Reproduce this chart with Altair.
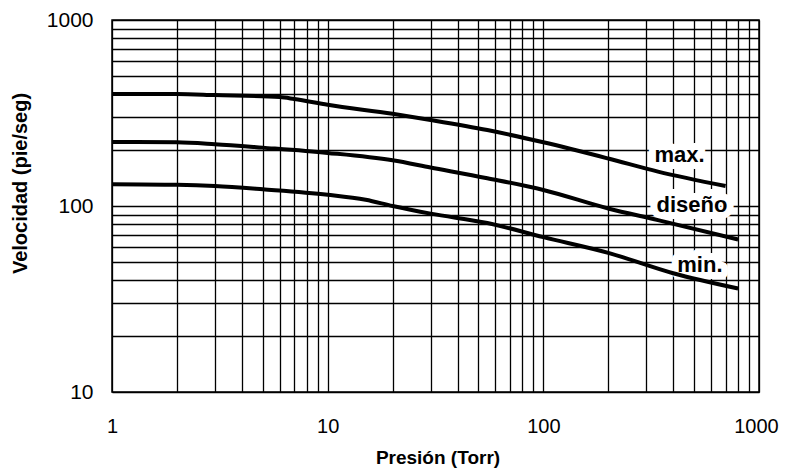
import altair as alt
import pandas as pd

# ---- data ----
pres_max = [1, 2, 3, 6, 7, 10, 20, 30, 55, 100, 200, 340, 700]
vel_max = [400, 400, 395, 385, 376, 350, 313, 290, 256, 220, 180, 153, 128]

pres_dis = [1, 2, 3, 5, 10, 20, 30, 55, 100, 200, 340, 800]
vel_dis = [221, 220, 215, 206, 193, 176, 161, 141, 122, 97, 84, 66]

pres_min = [1, 2, 3, 5, 10, 15, 20, 30, 55, 100, 200, 400, 800]
vel_min = [131, 130, 128, 123, 115, 108, 100, 91, 81, 68, 56, 43.5, 36]

label_text = ["max.", "diseño", "min."]
label_p = [428, 489, 532]
label_v = [172, 93, 44.4]

x_grid = [1, 2, 3, 4, 5, 6, 7, 8, 9,
          10, 20, 30, 40, 50, 60, 70, 80, 90,
          100, 200, 300, 400, 500, 600, 700, 800, 900, 1000]
y_grid = [10, 20, 30, 40, 50, 60, 70, 80, 90,
          100, 200, 300, 400, 500, 600, 700, 800, 900, 1000]
x_major = [1, 10, 100, 1000]
y_major = [10, 100, 1000]

rows = []
for name, xs, ys in [("max", pres_max, vel_max),
                     ("diseño", pres_dis, vel_dis),
                     ("min", pres_min, vel_min)]:
    for p, v in zip(xs, ys):
        rows.append({"serie": name, "p": p, "v": v})
df = pd.DataFrame(rows)
lab = pd.DataFrame({"t": label_text, "p": label_p, "v": label_v})

FONT = "Liberation Sans"

xscale = alt.Scale(type="log", domain=[1, 1000], nice=False)
yscale = alt.Scale(type="log", domain=[10, 1000], nice=False)

xaxis = alt.Axis(
    values=x_grid, format="d",
    labelExpr="indexof(" + str(x_major) + ", datum.value) >= 0 ? datum.label : ''",
    labelOverlap=False, labelFlush=False, labelBound=False,
    labelFont=FONT, labelFontSize=20, labelColor="black", labelPadding=24,
    labelBaseline="top",
    labelOffset={"condition": {"test": "datum.value == 1000", "value": -3}, "value": 0},
    ticks=False, domain=False,
    grid=True, gridColor="black", gridOpacity=1, gridWidth=1.3,
    title="Presión (Torr)", titleFont=FONT, titleFontSize=19, titleFontWeight="bold",
    titleColor="black", titleX=325.5, titleY=71, titleAlign="center",
    titleBaseline="alphabetic",
)
yaxis = alt.Axis(
    values=y_grid, format="d",
    labelExpr="indexof(" + str(y_major) + ", datum.value) >= 0 ? datum.label : ''",
    labelOverlap=False, labelFlush=False, labelBound=False,
    labelFont=FONT, labelFontSize=21, labelColor="black", labelPadding=19,
    ticks=False, domain=False,
    grid=True, gridColor="black", gridOpacity=1, gridWidth=1.3,
    title="Velocidad (pie/seg)", titleFont=FONT, titleFontSize=20, titleFontWeight="bold",
    titleColor="black", titleX=-92, titleY=163, titleAngle=270, titleAlign="center",
    titleBaseline="middle",
)

X = alt.X("p:Q", scale=xscale, axis=xaxis)
Y = alt.Y("v:Q", scale=yscale, axis=yaxis)

halo = alt.Chart(lab).mark_text(
    font=FONT, fontSize=22, fontWeight="bold", align="center", baseline="alphabetic",
    stroke="white", strokeWidth=14, fill="white", strokeJoin="round"
).encode(x=X, y=Y, text="t:N")

lines = alt.Chart(df).mark_line(
    color="black", strokeWidth=4, interpolate="monotone"
).encode(x=X, y=Y, detail="serie:N")

text = alt.Chart(lab).mark_text(
    font=FONT, fontSize=22, fontWeight="bold", align="center", baseline="alphabetic",
    color="black"
).encode(x=X, y=Y, text="t:N")

chart = alt.layer(halo, lines, text).properties(
    width=647, height=372,
    autosize=alt.AutoSizeParams(type="none"),
    padding={"left": 104, "top": 12, "right": 21, "bottom": 77},
    background="white",
).configure_view(stroke="black", strokeWidth=1.5)

chart.save("out.html", embed_options={"renderer": "svg", "actions": False})
